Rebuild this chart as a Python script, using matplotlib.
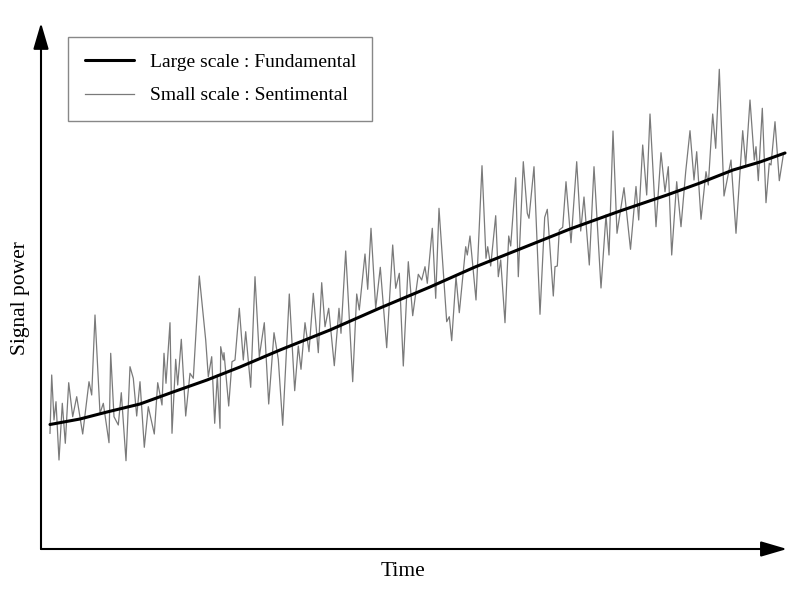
import matplotlib
matplotlib.use("Agg")
import matplotlib.pyplot as plt

plt.rcParams['font.family'] = ['Liberation Serif', 'DejaVu Serif']

# Small scale (sentimental) signal: time, signal power
small_time = [50, 51.7, 54, 56, 59, 62.3, 65.3, 68.7, 72.7, 76.7, 82.7, 89, 91.7, 95, 100, 103.3,
              109, 110.7, 114, 118.3, 121.3, 126, 130, 133.3, 136.7, 140, 144.3, 148.3, 154.3, 157.7,
              162, 164, 166, 170, 172, 175.7, 177.7, 181.3, 185.7, 190, 193.3, 199.3, 205.7, 208.3,
              211.7, 214.7, 217.3, 220, 220.7, 223.3, 224, 228.7, 232, 235, 239.3, 243.3, 245.7, 250.7,
              255, 259.3, 264.3, 268.7, 274, 278.3, 282.7, 289.3, 294.7, 298.3, 301, 305, 309, 313.3,
              318.3, 321.7, 325, 328.7, 334.3, 339, 341, 345.7, 352.7, 356.7, 359.3, 365, 367.7, 371,
              375.7, 380.3, 386.7, 392.7, 395.7, 399.3, 403.3, 408.3, 412.7, 418.3, 421.7, 425, 427.3,
              432.3, 435.7, 439, 446.7, 449.3, 451.7, 456, 459.3, 465.7, 467.3, 470, 476, 482, 486,
              487.7, 490.7, 495.7, 498.3, 500.7, 505, 508.7, 510.7, 515.7, 518.3, 523.3, 527.3, 529,
              534, 540, 544.7, 547.3, 553.3, 555, 557.3, 559.3, 562.7, 566, 571, 576.7, 580.7, 584,
              589.3, 594, 601, 606, 609, 613, 617, 624, 630.5, 636, 638.7, 642.7, 646.7, 650, 656,
              661, 665, 668.3, 671.7, 676.7, 681, 685.7, 690, 694, 696.7, 701, 706, 708.3, 712.7,
              715.7, 719.3, 724, 731, 736, 742.7, 745.7, 750, 754.3, 756, 758.3, 762.3, 766, 769.3,
              771, 775, 779.3, 783.3]
small_signal = [115.7, 174, 129, 147.3, 89, 145.7, 105.7, 166.3, 132.3, 152.3, 115, 167.3, 154, 234,
                135.7, 145.7, 106.3, 195.7, 132.3, 124, 156.3, 88.3, 182.3, 170.7, 133, 167.3, 101.7,
                142.3, 115, 166.3, 144, 195.7, 165.7, 226.3, 115.7, 189.7, 164, 209.7, 133, 175.7,
                170.7, 273, 209, 172.3, 192.3, 125.7, 174, 120.7, 202.3, 189, 196.3, 143, 187.3, 189,
                240.7, 189, 217.3, 161.7, 272.3, 192.3, 226.3, 145, 216.3, 189.7, 123.7, 255, 158.3,
                203, 179.7, 226.3, 197.3, 255.7, 196.3, 266.3, 222.3, 240.7, 183.3, 240.7, 215.7, 298,
                167.3, 255, 239, 295, 259.7, 320.7, 240.7, 281.7, 201.3, 304, 260.7, 275.7, 183, 287.3,
                233.3, 274.7, 269, 282.3, 265.7, 320.7, 250.7, 340.7, 227.3, 232.3, 208.3, 272.3, 236.3,
                302.3, 294, 313, 249, 383.3, 290.7, 302.3, 283, 333.3, 272.3, 289, 226.3, 313, 303,
                371.3, 272.3, 387.3, 335.7, 330.7, 382.3, 234.7, 331.7, 339.7, 253, 282.3, 283, 319,
                321.7, 367.3, 306.3, 387.3, 318, 352, 284, 382.3, 261, 334, 294, 418, 315.7, 361.3,
                299.7, 362.5, 329, 404, 354, 435, 322.3, 396.3, 357.3, 382.3, 294, 367.3, 322.3, 377.3,
                418.3, 369, 397.3, 329.7, 377.3, 364, 435, 400.7, 479.7, 353, 389, 315.7, 418.3, 384,
                449, 389, 402.3, 368.3, 440.7, 346.3, 385.7, 384, 427.3, 368.3, 394]

# Large scale (fundamental) trend
large_time = [50, 80, 107, 140, 173, 207, 240, 280, 330, 380, 430, 475, 520, 570, 620, 667, 700, 733, 760, 785]
large_signal = [124.5, 130, 137, 145, 157, 169, 182, 199, 219, 241, 262, 282, 300, 320, 338, 354, 366, 379, 387, 396]

labels = ["Large scale : Fundamental", "Small scale : Sentimental"]
x_label = "Time"
y_label = "Signal power"

W, H = 800, 600
fig = plt.figure(figsize=(8, 6), dpi=100)
x0, x1, y0, y1 = 41, 787, 549, 25
ax = fig.add_axes([x0 / W, 1 - y0 / H, (x1 - x0) / W, (y0 - y1) / H])
ax.set_xlim(41, 787)
ax.set_ylim(0, 524)

ax.plot(large_time, large_signal, color='black', lw=2.2, label=labels[0], zorder=3,
        solid_capstyle='round')
ax.plot(small_time, small_signal, color='#7a7a7a', lw=0.9, label=labels[1], zorder=2)

for s in ax.spines.values():
    s.set_visible(False)
ax.set_xticks([])
ax.set_yticks([])

arrow_style = dict(arrowstyle='-|>,head_length=1.6,head_width=0.47', lw=1.5, color='black',
                   mutation_scale=10, shrinkA=0, shrinkB=0)
ax.annotate('', xy=(1, 0), xytext=(0, 0), xycoords='axes fraction', textcoords='axes fraction',
            arrowprops=arrow_style, annotation_clip=False)
ax.annotate('', xy=(0, 1.004), xytext=(0, 0), xycoords='axes fraction', textcoords='axes fraction',
            arrowprops=arrow_style, annotation_clip=False)

fig.text(403 / W, 1 - 572 / H, x_label, fontsize=15.5, ha='center', va='center')
fig.text(21 / W, 1 - 298 / H, y_label, fontsize=15.5, ha='center', va='center', rotation=90)

leg = ax.legend(loc='upper left', bbox_to_anchor=(68 / W, 1 - 37 / H), bbox_transform=fig.transFigure,
                borderaxespad=0, fontsize=14, fancybox=False, framealpha=1, edgecolor='#888888',
                handlelength=2.55, handletextpad=0.8, borderpad=0.85, labelspacing=0.8)
leg.get_frame().set_linewidth(1.0)

fig.savefig('out.png', dpi=100, facecolor='white')
